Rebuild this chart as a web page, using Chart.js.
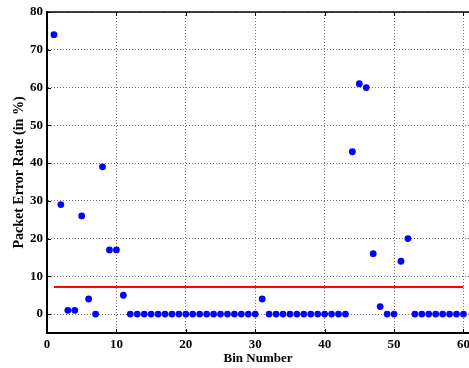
<!DOCTYPE html>
<html>
<head>
<meta charset="utf-8">
<script src="https://cdn.jsdelivr.net/npm/chart.js@4/dist/chart.umd.min.js"></script>
<style>
  html, body { margin: 0; padding: 0; background: #fff; overflow: hidden; }
  #stage { position: relative; width: 469px; height: 368px; }
  #stage canvas { position: absolute; left: 0; top: 0; }
  #veil { position: absolute; left: 0; top: 0; width: 469px; height: 368px; background: rgba(255, 255, 255, 0.01); pointer-events: none; }
</style>
</head>
<body>
<div id="stage">
  <canvas id="perChart" width="469" height="368"></canvas>
  <div id="veil"></div>
</div>
<script>
const bins = [
  1, 2, 3, 4, 5, 6, 7, 8, 9, 10,
  11, 12, 13, 14, 15, 16, 17, 18, 19, 20,
  21, 22, 23, 24, 25, 26, 27, 28, 29, 30,
  31, 32, 33, 34, 35, 36, 37, 38, 39, 40,
  41, 42, 43, 44, 45, 46, 47, 48, 49, 50,
  51, 52, 53, 54, 55, 56, 57, 58, 59, 60
];
const errorRates = [
  74, 29, 1, 1, 26, 4, 0, 39, 17, 17,
  5, 0, 0, 0, 0, 0, 0, 0, 0, 0,
  0, 0, 0, 0, 0, 0, 0, 0, 0, 0,
  4, 0, 0, 0, 0, 0, 0, 0, 0, 0,
  0, 0, 0, 43, 61, 60, 16, 2, 0, 0,
  14, 20, 0, 0, 0, 0, 0, 0, 0, 0
];
const thresholdLevel = 7.2;
const thresholdSpan = [1, 60];
const xTicks = [0, 10, 20, 30, 40, 50, 60];
const yTicks = [0, 10, 20, 30, 40, 50, 60, 70, 80];

const serif = "'Liberation Serif', 'Times New Roman', serif";

// top frame line and short inward tick marks
const axisFrame = {
  id: "axisFrame",
  afterDraw(chart) {
    const ctx = chart.ctx;
    const area = chart.chartArea;
    const len = 4;
    ctx.save();
    ctx.strokeStyle = "#000";
    ctx.lineWidth = 1.5;
    ctx.beginPath();
    ctx.moveTo(area.left, area.top);
    ctx.lineTo(area.right, area.top);
    ctx.stroke();
    ctx.lineWidth = 1;
    ctx.beginPath();
    xTicks.forEach((v) => {
      const px = Math.round(chart.scales.x.getPixelForValue(v)) + 0.5;
      ctx.moveTo(px, area.bottom);
      ctx.lineTo(px, area.bottom - len);
      ctx.moveTo(px, area.top);
      ctx.lineTo(px, area.top + len);
    });
    yTicks.forEach((v) => {
      const py = Math.round(chart.scales.y.getPixelForValue(v)) + 0.5;
      ctx.moveTo(area.left, py);
      ctx.lineTo(area.left + len, py);
    });
    ctx.stroke();
    ctx.restore();
  }
};

// software-backed 2d context
const ctx2d = document.getElementById("perChart").getContext("2d", { willReadFrequently: true });

new Chart(ctx2d, {
  type: "scatter",
  data: {
    datasets: [
      {
        type: "line",
        data: thresholdSpan.map((x) => ({ x, y: thresholdLevel })),
        borderColor: "#ff0000",
        borderWidth: 2,
        pointRadius: 0,
        fill: false
      },
      {
        data: bins.map((b, i) => ({ x: b, y: errorRates[i] })),
        backgroundColor: "#0000ff",
        borderWidth: 0,
        pointRadius: 3.4
      }
    ]
  },
  options: {
    responsive: false,
    animation: false,
    devicePixelRatio: 1,
    layout: { autoPadding: false, padding: { top: 12, right: 0, bottom: 0, left: 0 } },
    plugins: { legend: { display: false }, tooltip: { enabled: false } },
    scales: {
      x: {
        type: "linear",
        min: 0,
        max: 60.8,
        afterBuildTicks: (axis) => { axis.ticks = xTicks.map((value) => ({ value })); },
        afterFit: (axis) => { axis.height = 35; axis.paddingLeft = 0; axis.paddingRight = 0; },
        grid: { color: "#707070", lineWidth: 1, drawTicks: false },
        border: { display: true, color: "#000", width: 2, dash: [1, 2] },
        ticks: { color: "#000", font: { family: serif, size: 13, weight: "bold" }, padding: 4, maxRotation: 0, autoSkip: false },
        title: { display: true, text: "Bin Number", color: "#000", font: { family: serif, size: 13, weight: "bold" }, padding: { top: 0, bottom: 2 } }
      },
      y: {
        min: -5,
        max: 80,
        afterBuildTicks: (axis) => { axis.ticks = yTicks.map((value) => ({ value })); },
        afterFit: (axis) => { axis.width = 47; axis.paddingTop = 0; axis.paddingBottom = 0; },
        grid: { color: "#707070", lineWidth: 1, drawTicks: false },
        border: { display: true, color: "#000", width: 2, dash: [1, 2] },
        ticks: { color: "#000", font: { family: serif, size: 13, weight: "bold" }, padding: 4, autoSkip: false },
        title: { display: true, text: "Packet Error Rate (in %)", color: "#000", font: { family: serif, size: 14, weight: "bold" }, padding: { top: 11, bottom: 0 } }
      }
    }
  },
  plugins: [axisFrame]
});
</script>
</body>
</html>
